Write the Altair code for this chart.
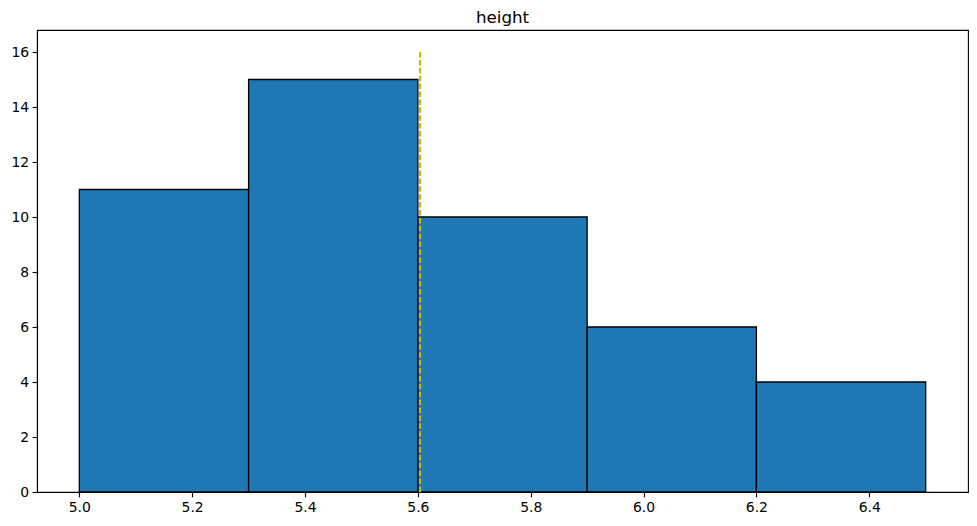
import altair as alt
import pandas as pd

bin_start = [5.0, 5.3, 5.6, 5.9, 6.2]
bin_end = [5.3, 5.6, 5.9, 6.2, 6.5]
counts = [11, 15, 10, 6, 4]
mean_value = [5.604]
mean_top = [16]
x_ticks = [5.0, 5.2, 5.4, 5.6, 5.8, 6.0, 6.2, 6.4]
y_ticks = [0, 2, 4, 6, 8, 10, 12, 14, 16]

bars_df = pd.DataFrame({"start": bin_start, "end": bin_end, "count": counts})
mean_df = pd.DataFrame({"mean": mean_value, "top": mean_top, "bottom": [0]})

xscale = alt.Scale(domain=[4.925, 6.575], nice=False, zero=False)
yscale = alt.Scale(domain=[0, 16.8], nice=False)

xaxis = alt.Axis(values=x_ticks, format=".1f", title=None, grid=False,
                 tickSize=4.9, tickWidth=1.1, tickColor="black",
                 domainColor="black", domainWidth=1.1,
                 labelFont="DejaVu Sans", labelFontSize=13.9, labelColor="black",
                 labelPadding=3.5)
yaxis = alt.Axis(values=y_ticks, title=None, grid=False,
                 tickSize=4.9, tickWidth=1.1, tickColor="black",
                 domainColor="black", domainWidth=1.1,
                 labelFont="DejaVu Sans", labelFontSize=13.9, labelColor="black",
                 labelPadding=3.5)

bars = alt.Chart(bars_df).mark_rect(
    fill="#1f77b4", stroke="black", strokeWidth=1.3
).encode(
    x=alt.X("start:Q", scale=xscale, axis=xaxis),
    x2="end:Q",
    y=alt.Y("count:Q", scale=yscale, axis=yaxis),
    y2=alt.datum(0),
)

mean_line = alt.Chart(mean_df).mark_rule(
    color="#bfbf00", strokeWidth=2.1, strokeDash=[5.5, 2.4]
).encode(
    x=alt.X("mean:Q", scale=xscale),
    y=alt.Y("top:Q", scale=yscale),
    y2="bottom:Q",
)

chart = alt.layer(bars, mean_line).properties(
    width=931,
    height=462,
    title=alt.TitleParams("height", font="DejaVu Sans", fontSize=16.7,
                          fontWeight="normal", color="black", offset=3,
                          anchor="middle"),
    autosize=alt.AutoSizeParams(type="none"),
    padding={"left": 29, "top": 22, "right": 1, "bottom": 26},
).configure_view(
    stroke="black", strokeWidth=1.1
)

chart.save("out.html", embed_options={"renderer": "svg", "actions": False})
